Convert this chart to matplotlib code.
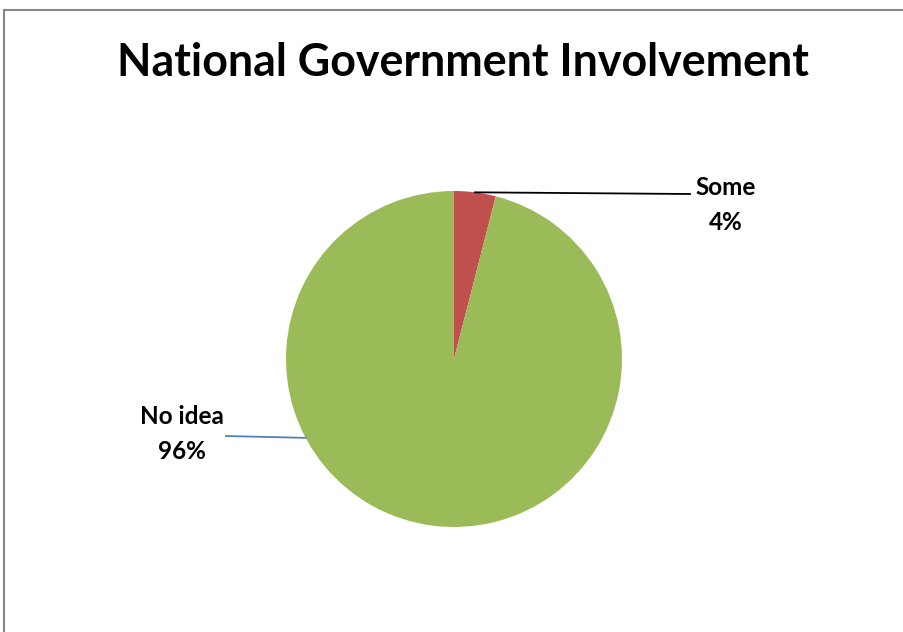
import numpy as np
import matplotlib.pyplot as plt
from matplotlib.lines import Line2D

plt.rcParams['font.family'] = ['Lato', 'DejaVu Sans']

labels = ['Some', 'No idea']
shares = [4, 96]
colors = ['#C0504D', '#9BBB59']

W, H = 904, 632
fig = plt.figure(figsize=(W / 100, H / 100), dpi=100)
ax = fig.add_axes([0, 0, 1, 1])

# pie in pixel-like coordinates (y up)
cx, cy, r = 454, H - 359, 168
ax.pie(shares, colors=colors, startangle=90, counterclock=False,
       center=(cx, cy), radius=r, wedgeprops=dict(linewidth=0),
       frame=True)
ax.set_xlim(0, W)
ax.set_ylim(0, H)
ax.set_aspect('equal')
ax.axis('off')

# leader lines
a_some = np.deg2rad(90 - shares[0] / 100 * 360 / 2)
ax.plot([cx + r * np.cos(a_some), 690], [cy + r * np.sin(a_some), H - 194],
        color='black', lw=1.3)
a_no = np.deg2rad(208)
ax.plot([cx + r * np.cos(a_no), 226], [cy + r * np.sin(a_no), H - 436],
        color='#4F81BD', lw=1.3)

ax.text(726, H - 205, f'{labels[0]}\n{shares[0]}%', ha='center', va='center',
        fontsize=17.5, fontweight='bold', linespacing=1.6)
ax.text(182, H - 434, f'{labels[1]}\n{shares[1]}%', ha='center', va='center',
        fontsize=17.5, fontweight='bold', linespacing=1.6)

fig.text(463 / W, 1 - 63 / H, 'National Government Involvement', ha='center',
         va='center', fontsize=32.2, fontweight='bold')

# chart border (top and left visible)
fig.add_artist(Line2D([4.5 / W, 1], [1 - 9.5 / H, 1 - 9.5 / H], color='#868686', lw=1.5))
fig.add_artist(Line2D([4.5 / W, 4.5 / W], [0, 1 - 9.5 / H], color='#868686', lw=1.5))

fig.savefig('out.png', dpi=100, facecolor='white')
